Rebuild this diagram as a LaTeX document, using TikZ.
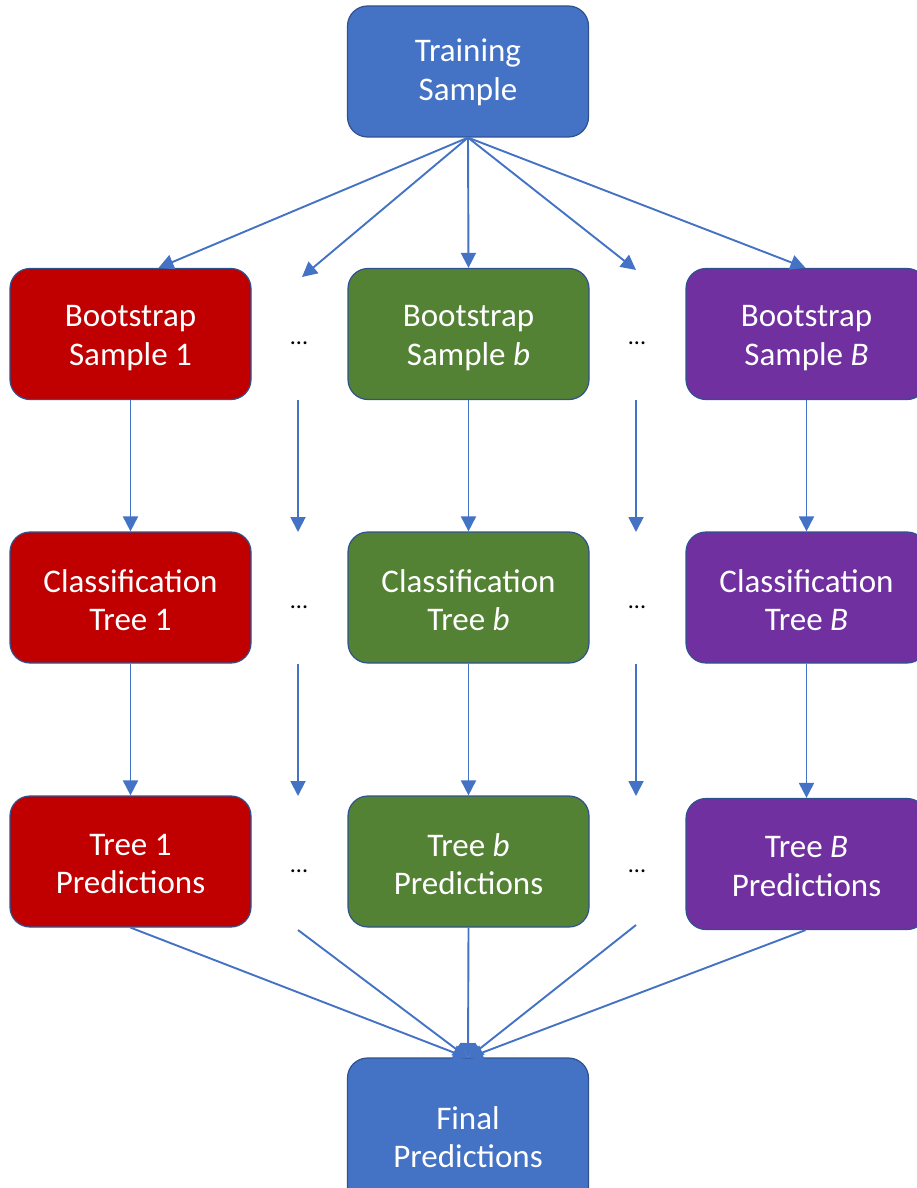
\documentclass[tikz,border=0pt]{standalone}
\usepackage{fontspec}
\setmainfont{Carlito}
\usetikzlibrary{arrows.meta}
\definecolor{officeblue}{HTML}{4472C4}
\definecolor{boxline}{HTML}{2F528F}
\definecolor{treered}{HTML}{C00000}
\definecolor{treegreen}{HTML}{548235}
\definecolor{treepurple}{HTML}{7030A0}
\tikzset{
  box/.style={draw=boxline, line width=1.2pt, rounded corners=20pt,
    minimum width=241pt, minimum height=131pt},
  boxtext/.style={align=center, text=white,
    font=\fontsize{33}{38.5}\selectfont},
  % rounded box with its two-line caption, lowered by #2
  card/.style n args={2}{box, label={[boxtext, yshift=#2]center:#1}},
  dots/.style={font=\fontsize{24}{24}\selectfont, text=black},
  link/.style={draw=officeblue, line width=1.9pt,
    -{Triangle[length=15pt,width=15pt]}},
}
\begin{document}
\begin{tikzpicture}[x=1pt,y=-1pt]
\useasboundingbox (0,0) rectangle (917,1188);

% source and final nodes
\node[card={Training\\Sample}{-1pt}, fill=officeblue] (ts) at (468,71.5) {};
\node[card={Final\\Predictions}{0pt}, fill=officeblue, minimum height=158pt] (fp) at (468,1137) {};

% first column
\node[card={Bootstrap\\Sample 1}{-4pt}, fill=treered] (b1) at (130.5,334) {};
\node[card={Classification\\Tree 1}{-2.5pt}, fill=treered] (c1) at (130.5,597.5) {};
\node[card={Tree 1\\Predictions}{-2.5pt}, fill=treered] (p1) at (130.5,861.5) {};

% middle column
\node[card={Bootstrap\\Sample \textit{b}}{-4pt}, fill=treegreen] (bb) at (468.5,334) {};
\node[card={Classification\\Tree \textit{b}}{-2.5pt}, fill=treegreen] (cb) at (468.5,597.5) {};
\node[card={Tree \textit{b}\\Predictions}{-2.5pt}, fill=treegreen] (pb) at (468.5,861.5) {};

% last column
\node[card={Bootstrap\\Sample \textit{B}}{-4pt}, fill=treepurple] (bB) at (806.5,334) {};
\node[card={Classification\\Tree \textit{B}}{-2.5pt}, fill=treepurple] (cB) at (806.5,597.5) {};
\node[card={Tree \textit{B}\\Predictions}{-2.5pt}, fill=treepurple] (pB) at (806.5,864) {};

% ellipses between columns
\node[dots] (l1) at (299,343) {...};
\node[dots] (l2) at (299,607) {...};
\node[dots] (l3) at (299,871) {...};
\node[dots] (r1) at (637,343) {...};
\node[dots] (r2) at (637,607) {...};
\node[dots] (r3) at (637,871) {...};

% free ends of the arrows in the ellipsis columns
\coordinate (lt) at (302,277);
\coordinate (rt) at (636,270);
\coordinate (la1) at (298,400);
\coordinate (la2) at (298,532);
\coordinate (la3) at (298,664);
\coordinate (la4) at (298,796);
\coordinate (la5) at (298,930);
\coordinate (ra1) at (636,400);
\coordinate (ra2) at (636,532);
\coordinate (ra3) at (636,664);
\coordinate (ra4) at (636,796);
\coordinate (ra5) at (636,925);
\coordinate (hub) at (468,1058);

% training sample to the bootstrap samples
\draw[link] (ts.south) -- ([xshift=28pt]b1.north);
\draw[link] (ts.south) -- (lt);
\draw[link] (ts.south) -- (bb.north);
\draw[link] (ts.south) -- (rt);
\draw[link] (ts.south) -- ([xshift=-1pt]bB.north);

% samples to trees
\draw[link] (b1) -- (c1);
\draw[link] (la1) -- (la2);
\draw[link] (bb) -- (cb);
\draw[link] (ra1) -- (ra2);
\draw[link] (bB) -- (cB);

% trees to predictions
\draw[link] (c1) -- (p1);
\draw[link] (la3) -- (la4);
\draw[link] (cb) -- (pb);
\draw[link] (ra3) -- (ra4);
\draw[link] (cB) -- (pB);

% predictions to the final vote
\draw[link] (p1.south) -- (hub);
\draw[link] (la5) -- (hub);
\draw[link] (pb.south) -- (hub);
\draw[link] (ra5) -- (hub);
\draw[link] ([xshift=-1pt]pB.south) -- (hub);
\end{tikzpicture}
\end{document}
